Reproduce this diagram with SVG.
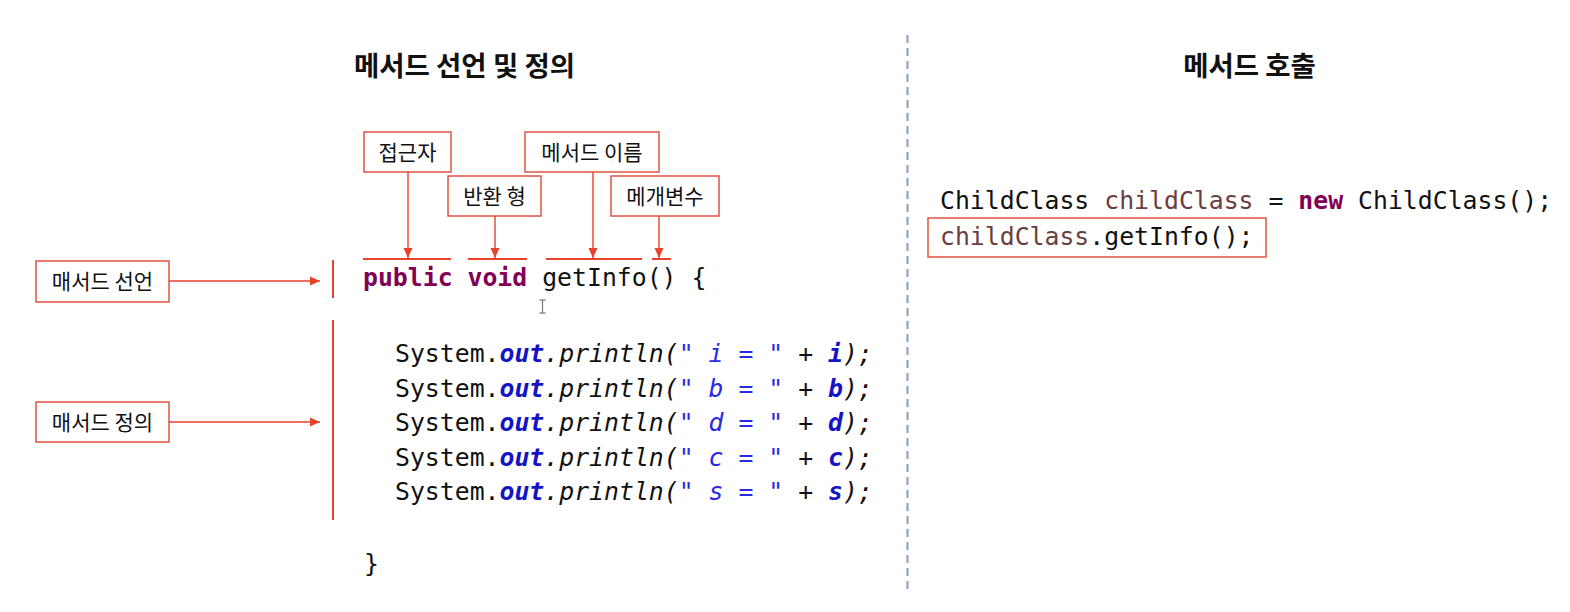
<svg xmlns="http://www.w3.org/2000/svg" width="1570" height="612" viewBox="0 0 1570 612">
<defs>
<marker id="ah" viewBox="0 0 10 10" refX="10" refY="5" markerWidth="10" markerHeight="10" markerUnits="userSpaceOnUse" orient="auto">
<path d="M0,0.5 L10,5 L0,9.5 Z" fill="#e8412c"/>
</marker>
<style>
.title{font-family:"Noto Sans CJK KR","Noto Sans",sans-serif;font-size:27.5px;font-weight:bold;fill:#111;text-anchor:middle}
.lbl{font-family:"Noto Sans CJK KR","Noto Sans",sans-serif;font-size:21px;fill:#111;text-anchor:middle}
.box{fill:#fff;stroke:#e0533f;stroke-width:1.5}
.con{stroke:#e8412c;stroke-width:1.4;fill:none;marker-end:url(#ah)}
.mark{stroke:#e8412c;stroke-width:2;fill:none}
.code{font-family:"DejaVu Sans Mono","Liberation Mono",monospace;font-size:24.8px;fill:#111;white-space:pre}
.kw{fill:#7f0055;font-weight:bold}
.it{font-style:italic}
.fld{fill:#1414c4;font-weight:bold;font-style:italic}
.str{fill:#2a2ae6;font-style:italic}
.var{fill:#6a3e3e}
</style>
</defs>
<rect width="1570" height="612" fill="#fff"/>
<line x1="907.5" y1="35" x2="907.5" y2="594" stroke="#7f9fc4" stroke-width="2" stroke-dasharray="8,5"/>
<text class="title" x="464.5" y="75.5">메서드 선언 및 정의</text>
<text class="title" x="1249.5" y="75.5">메서드 호출</text>

<g id="node-access"><rect class="box" x="364" y="132" width="87" height="40"/><text class="lbl" x="407.5" y="159.5">접근자</text></g>
<g id="node-return"><rect class="box" x="448" y="176" width="93" height="40"/><text class="lbl" x="494.5" y="203.5">반환 형</text></g>
<g id="node-name"><rect class="box" x="525" y="132" width="134" height="40"/><text class="lbl" x="592" y="159.5">메서드 이름</text></g>
<g id="node-param"><rect class="box" x="611" y="176" width="108" height="40"/><text class="lbl" x="665" y="203.5">메개변수</text></g>
<g id="node-decl"><rect class="box" x="36" y="261" width="133" height="41"/><text class="lbl" x="102.5" y="289">매서드 선언</text></g>
<g id="node-def"><rect class="box" x="36" y="402" width="133" height="40"/><text class="lbl" x="102.5" y="429.5">매서드 정의</text></g>

<g id="connectors">
<line class="con" x1="408" y1="172" x2="408" y2="258"/>
<line class="con" x1="495" y1="216" x2="495" y2="258"/>
<line class="con" x1="593" y1="172" x2="593" y2="258"/>
<line class="con" x1="659" y1="216" x2="659" y2="258"/>
<line class="con" x1="169" y1="281" x2="320" y2="281"/>
<line class="con" x1="169" y1="422" x2="320" y2="422"/>
</g>

<g id="markers">
<line class="mark" x1="363" y1="259" x2="451" y2="259"/>
<line class="mark" x1="468" y1="259" x2="527" y2="259"/>
<line class="mark" x1="546" y1="259" x2="642" y2="259"/>
<line class="mark" x1="652" y1="259" x2="671" y2="259"/>
<line class="mark" x1="333" y1="260" x2="333" y2="298"/>
<line class="mark" x1="333" y1="320" x2="333" y2="520"/>
</g>

<g id="code-left">
<text class="code" x="363" y="286"><tspan class="kw">public</tspan> <tspan class="kw">void</tspan> getInfo() {</text>
<text class="code" x="395" y="362">System.<tspan class="fld">out</tspan><tspan class="it">.println(</tspan><tspan class="str">" i = "</tspan><tspan class="it"> + </tspan><tspan class="fld">i</tspan><tspan class="it">);</tspan></text>
<text class="code" x="395" y="396.5">System.<tspan class="fld">out</tspan><tspan class="it">.println(</tspan><tspan class="str">" b = "</tspan><tspan class="it"> + </tspan><tspan class="fld">b</tspan><tspan class="it">);</tspan></text>
<text class="code" x="395" y="431">System.<tspan class="fld">out</tspan><tspan class="it">.println(</tspan><tspan class="str">" d = "</tspan><tspan class="it"> + </tspan><tspan class="fld">d</tspan><tspan class="it">);</tspan></text>
<text class="code" x="395" y="465.5">System.<tspan class="fld">out</tspan><tspan class="it">.println(</tspan><tspan class="str">" c = "</tspan><tspan class="it"> + </tspan><tspan class="fld">c</tspan><tspan class="it">);</tspan></text>
<text class="code" x="395" y="500">System.<tspan class="fld">out</tspan><tspan class="it">.println(</tspan><tspan class="str">" s = "</tspan><tspan class="it"> + </tspan><tspan class="fld">s</tspan><tspan class="it">);</tspan></text>
<text class="code" x="364" y="572">}</text>
</g>
<g id="cursor" stroke="#777" stroke-width="1.2">
<line x1="542.5" y1="300" x2="542.5" y2="313"/>
<line x1="539.5" y1="300" x2="545.5" y2="300"/>
<line x1="539.5" y1="313" x2="545.5" y2="313"/>
</g>

<g id="code-right">
<rect class="box" x="928" y="218" width="338" height="39"/>
<text class="code" x="940" y="209">ChildClass <tspan class="var">childClass</tspan> = <tspan class="kw">new</tspan> ChildClass();</text>
<text class="code" x="940" y="245"><tspan class="var">childClass</tspan>.getInfo();</text>
</g>
</svg>
